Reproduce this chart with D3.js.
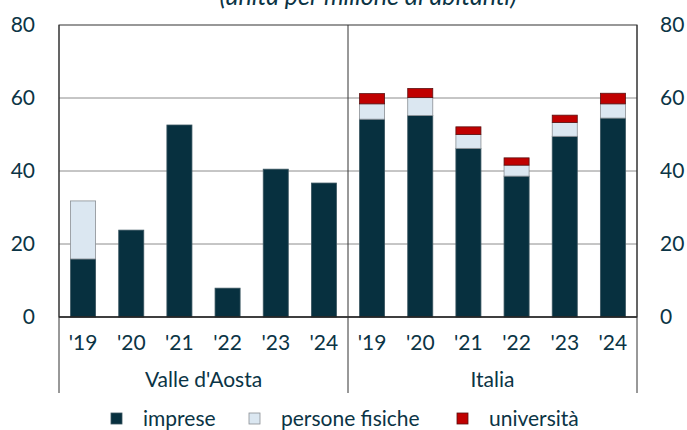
<!DOCTYPE html>
<html>
<head>
<meta charset="utf-8">
<script src="https://cdn.jsdelivr.net/npm/d3@7"></script>
<style>
  body { margin: 0; background: #fff; }
  svg { display: block; font-family: "Lato", "Open Sans", sans-serif; }
</style>
</head>
<body>
<svg id="chart" width="687" height="430"></svg>
<script>
// data
const groups = ["Valle d'Aosta", "Italia"];
const years = ["'19", "'20", "'21", "'22", "'23", "'24"];
const series = ["imprese", "persone fisiche", "università"];

const imprese = [
  [15.9, 23.8, 52.6, 7.9, 40.5, 36.7],
  [54.2, 55.2, 46.2, 38.6, 49.5, 54.5]
];
const personeFisiche = [
  [15.9, 0, 0, 0, 0, 0],
  [4.2, 4.9, 3.8, 3.0, 3.8, 3.9]
];
const universita = [
  [0, 0, 0, 0, 0, 0],
  [2.8, 2.5, 2.1, 2.0, 2.0, 2.9]
];
const yTicks = [0, 20, 40, 60, 80];
const title = "(unità per milione di abitanti)";

const colors = ["#07303f", "#dbe7f1", "#c00000"];
const strokes = ["#3a5560", "#8a8f94", "#5a1010"];
const textColor = "#0b3445";

const svg = d3.select("#chart");
const plotL = 59, plotR = 637, plotT = 25, plotB = 317;
const fs = 21;

const y = d3.scaleLinear().domain([0, 80]).range([plotB, plotT]);
const xg = d3.scaleBand().domain(groups).range([plotL, plotR]);
const xb = d3.scaleBand().domain(years).range([0, xg.bandwidth()])
  .paddingInner(0.48).paddingOuter(0.24);

// title (partly cut at the top, as in the source)
svg.append("text")
  .attr("x", 368).attr("y", 5)
  .attr("text-anchor", "middle")
  .attr("font-size", 25).attr("font-style", "italic")
  .attr("fill", textColor)
  .text(title);

// grid lines
svg.append("g").selectAll("line")
  .data(yTicks.filter(d => d > 0 && d < 80))
  .join("line")
  .attr("x1", plotL).attr("x2", plotR)
  .attr("y1", d => y(d)).attr("y2", d => y(d))
  .attr("stroke", "#8c8c8c").attr("stroke-width", 1);

// bars
const rows = [];
groups.forEach((g, gi) => {
  years.forEach((yr, i) => {
    const vals = [imprese[gi][i], personeFisiche[gi][i], universita[gi][i]];
    let base = 0;
    vals.forEach((v, si) => {
      if (v > 0) rows.push({ g, yr, si, y0: base, y1: base + v });
      base += v;
    });
  });
});

svg.append("g").selectAll("rect")
  .data(rows)
  .join("rect")
  .attr("x", d => xg(d.g) + xb(d.yr))
  .attr("width", xb.bandwidth())
  .attr("y", d => y(d.y1))
  .attr("height", d => y(d.y0) - y(d.y1))
  .attr("fill", d => colors[d.si])
  .attr("stroke", d => strokes[d.si])
  .attr("stroke-width", 0.8);

// frame
svg.append("rect")
  .attr("x", plotL).attr("y", plotT)
  .attr("width", plotR - plotL).attr("height", plotB - plotT)
  .attr("fill", "none").attr("stroke", "#333").attr("stroke-width", 1);

// baseline
svg.append("line")
  .attr("x1", plotL).attr("x2", plotR)
  .attr("y1", y(0)).attr("y2", y(0))
  .attr("stroke", "#222").attr("stroke-width", 1.5);

// group separators (extend below axis)
const seps = [plotL, xg("Italia"), plotR];
svg.append("g").selectAll("line")
  .data(seps)
  .join("line")
  .attr("x1", d => d).attr("x2", d => d)
  .attr("y1", plotT).attr("y2", 393)
  .attr("stroke", "#333").attr("stroke-width", 1);

// y axis labels left and right
svg.append("g").selectAll("text")
  .data(yTicks)
  .join("text")
  .attr("x", 35).attr("y", d => y(d))
  .attr("dy", "0.35em")
  .attr("text-anchor", "end")
  .attr("font-size", fs).attr("fill", textColor)
  .text(d => d);

svg.append("g").selectAll("text")
  .data(yTicks)
  .join("text")
  .attr("x", 660).attr("y", d => y(d))
  .attr("dy", "0.35em")
  .attr("text-anchor", "start")
  .attr("font-size", fs).attr("fill", textColor)
  .text(d => d);

// year labels
groups.forEach(g => {
  svg.append("g").selectAll("text")
    .data(years)
    .join("text")
    .attr("x", d => xg(g) + xb(d) + xb.bandwidth() / 2)
    .attr("y", 343).attr("dy", "0.35em")
    .attr("text-anchor", "middle")
    .attr("font-size", fs).attr("fill", textColor)
    .text(d => d);
});

// group labels
svg.append("g").selectAll("text")
  .data(groups)
  .join("text")
  .attr("x", d => xg(d) + xg.bandwidth() / 2)
  .attr("y", 380).attr("dy", "0.35em")
  .attr("text-anchor", "middle")
  .attr("font-size", fs).attr("fill", textColor)
  .text(d => d);

// legend
const legendX = [111, 249, 457];
const leg = svg.append("g").selectAll("g")
  .data(series)
  .join("g")
  .attr("transform", (d, i) => `translate(${legendX[i]},0)`);
leg.append("rect")
  .attr("x", 0).attr("y", 413)
  .attr("width", 11).attr("height", 11)
  .attr("fill", (d, i) => colors[i])
  .attr("stroke", (d, i) => strokes[i]).attr("stroke-width", 0.8);
leg.append("text")
  .attr("x", 32).attr("y", 419).attr("dy", "0.35em")
  .attr("font-size", fs).attr("fill", textColor)
  .text(d => d);
</script>
</body>
</html>
